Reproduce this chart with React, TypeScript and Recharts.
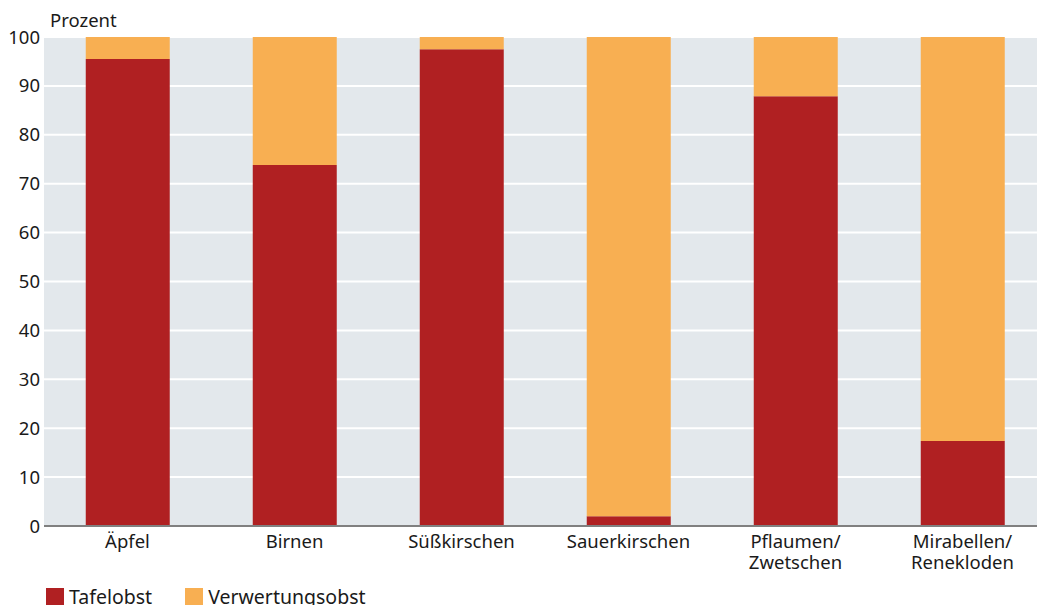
import { Bar, BarChart, CartesianGrid, XAxis, YAxis } from 'recharts';

const categories = ['Äpfel', 'Birnen', 'Süßkirschen', 'Sauerkirschen', 'Pflaumen/\nZwetschen', 'Mirabellen/\nRenekloden'];
const tafelobst = [95.5, 73.8, 97.5, 2.0, 87.9, 17.4];
const verwertungsobst = [4.5, 26.2, 2.5, 98.0, 12.1, 82.6];
const yTicks = [0, 10, 20, 30, 40, 50, 60, 70, 80, 90, 100];

const data = categories.map((c, i) => ({
  name: c,
  tafel: tafelobst[i],
  verwertung: verwertungsobst[i],
}));

const font = '"Noto Sans", sans-serif';
const RED = '#b02022';
const ORANGE = '#f8af52';
const FS = 18.5;

function XTick({ x, y, payload }: any) {
  const lines = String(payload.value).split('\n');
  return (
    <text x={x} y={y} textAnchor="middle" fontFamily={font} fontSize={FS} fill="#1a1a1a">
      {lines.map((l, i) => (
        <tspan key={i} x={x} dy={i === 0 ? 14 : 21}>
          {l}
        </tspan>
      ))}
    </text>
  );
}

const legendItems = [
  { label: 'Tafelobst', color: RED },
  { label: 'Verwertungsobst', color: ORANGE },
];

export default function App() {
  return (
    <div style={{ position: 'absolute', left: 0, top: 0, width: 1037, height: 605, overflow: 'hidden', background: '#fff' }}>
      <div
        style={{
          position: 'absolute',
          left: 50,
          top: 8,
          fontFamily: font,
          fontSize: FS,
          color: '#1a1a1a',
          lineHeight: '24px',
        }}
      >
        Prozent
      </div>
      <BarChart
        width={1037}
        height={605}
        data={data}
        margin={{ top: 37, right: -9, left: 0, bottom: 49 }}
        barCategoryGap="25%"
        style={{ overflow: 'hidden' }}
      >
        <CartesianGrid vertical={false} stroke="#ffffff" strokeWidth={2} fill="#e3e8ec" />
        <XAxis
          dataKey="name"
          height={30}
          tick={<XTick />}
          tickLine={false}
          axisLine={{ stroke: '#808080', strokeWidth: 2 }}
          interval={0}
        />
        <YAxis
          domain={[0, 100]}
          ticks={yTicks}
          width={44}
          tickLine={false}
          tickSize={0}
          axisLine={false}
          tickMargin={4}
          tick={{ fontFamily: font, fontSize: FS, fill: '#1a1a1a' }}
          interval={0}
        />
        <Bar dataKey="tafel" stackId="a" fill={RED} isAnimationActive={false} />
        <Bar dataKey="verwertung" stackId="a" fill={ORANGE} isAnimationActive={false} />
      </BarChart>
      <div
        style={{
          position: 'absolute',
          left: 46,
          top: 586,
          display: 'flex',
          fontFamily: font,
          fontSize: 19.5,
          color: '#1a1a1a',
          lineHeight: '22px',
        }}
      >
        {legendItems.map((it) => (
          <div key={it.label} style={{ display: 'flex', alignItems: 'center', marginRight: 33 }}>
            <span style={{ width: 18, height: 18, background: it.color, display: 'inline-block', marginRight: 5 }} />
            <span>{it.label}</span>
          </div>
        ))}
      </div>
    </div>
  );
}
